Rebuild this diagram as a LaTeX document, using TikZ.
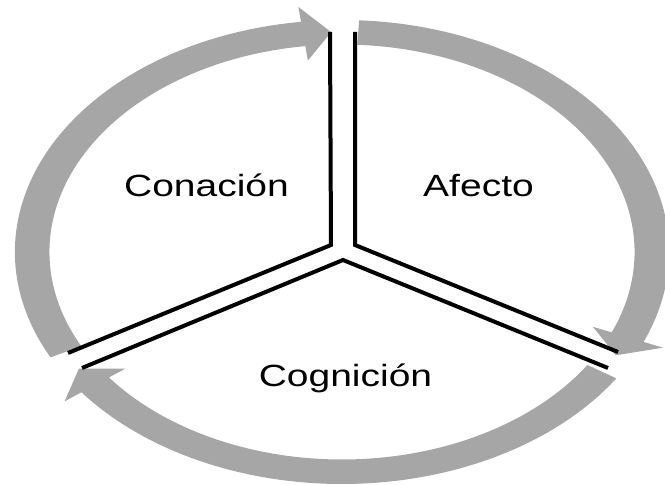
\documentclass[tikz,border=0pt]{standalone}
\usepackage{fontspec}
\setmainfont{Liberation Sans}
\usepackage{tikz}
\usepackage{xcolor}

\definecolor{arrowgray}{RGB}{166,166,166}

% gray cycle arrow: start angle, tip angle (clockwise)
\newcommand{\cyclearrow}[2]{%
    \fill[arrowgray] (#1:232) arc[start angle=#1, end angle=#2+5.2, radius=232]
        -- (#2+5.2:247) -- (#2:220) -- (#2+5.2:193)
        -- (#2+5.2:207.5) arc[start angle=#2+5.2, end angle=#1, radius=207.5] -- cycle;
}

\begin{document}
\begin{tikzpicture}[x=1pt, y=1pt,
    sectorline/.style={line width=4pt, black},
    sectorname/.style={anchor=base, xscale=1.27, font=\fontsize{30.7}{36}\selectfont}]
    \useasboundingbox (0,0) rectangle (665,485);

    % Draw the cycle arrows
    \begin{scope}[shift={(342,233)}, xscale=1.41]
        \cyclearrow{207}{92}
        \cyclearrow{87}{-28}
        \cyclearrow{-33}{-148}
    \end{scope}

    % Sector corners
    \coordinate (con-top) at (330,453);
    \coordinate (con-mid) at (331,240);
    \coordinate (con-end) at (68,132);
    \coordinate (afe-top) at (355,453);
    \coordinate (afe-mid) at (355,240);
    \coordinate (afe-end) at (618,133);
    \coordinate (cog-mid) at (343,225);
    \coordinate (cog-left) at (82,117);
    \coordinate (cog-right) at (608,117);

    % Draw the sector edges
    \draw[sectorline] (con-top) -- (con-mid) -- (con-end);
    \draw[sectorline] (afe-top) -- (afe-mid) -- (afe-end);
    \draw[sectorline] (cog-left) -- (cog-mid) -- (cog-right);

    % Add the sector names
    \node[sectorname] (conacion) at (206.5,288) {Conación};
    \node[sectorname] (afecto) at (478.5,288) {Afecto};
    \node[sectorname] (cognicion) at (345.5,98) {Cognición};
\end{tikzpicture}
\end{document}
